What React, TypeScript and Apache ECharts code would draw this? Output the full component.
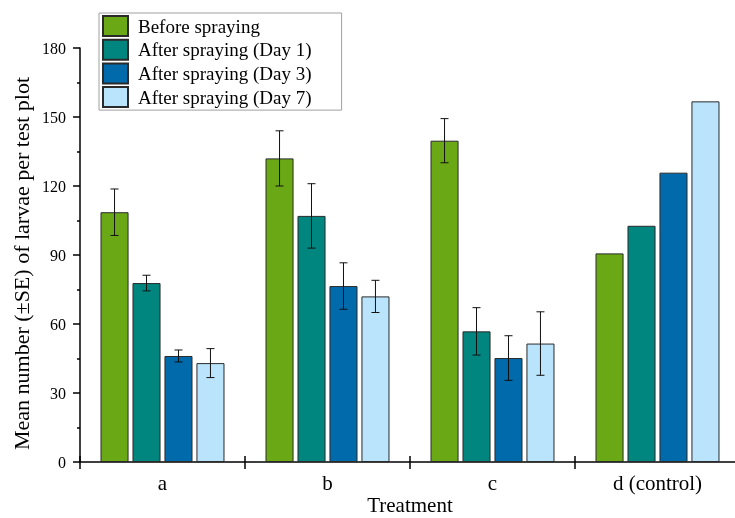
import React, { useEffect, useRef } from "react";
import * as echarts from "echarts";

const categories = ["a", "b", "c", "d (control)"];
const seriesNames = [
  "Before spraying",
  "After spraying (Day 1)",
  "After spraying (Day 3)",
  "After spraying (Day 7)",
];
const beforeSpraying = [108.6, 132.0, 139.7, 90.7];
const beforeSprayingSE = [10.1, 12.0, 9.6, 0];
const day1 = [77.8, 107.0, 56.8, 102.7];
const day1SE = [3.4, 14.0, 10.3, 0];
const day3 = [46.1, 76.5, 45.2, 125.8];
const day3SE = [2.6, 10.1, 9.7, 0];
const day7 = [43.0, 72.0, 51.5, 156.8];
const day7SE = [6.3, 7.0, 13.8, 0];
const yTicks = [0, 30, 60, 90, 120, 150, 180];

const colors = ["#6ba815", "#00867f", "#006aab", "#bae4fc"];
const values = [beforeSpraying, day1, day3, day7];
const errors = [beforeSprayingSE, day1SE, day3SE, day7SE];

const BAR_W = 0.17;
const BAR_GAP = 0.14;
const FONT = "Liberation Serif";

export default function App() {
  const ref = useRef<HTMLDivElement>(null);
  useEffect(() => {
    if (!ref.current) return;
    const chart = echarts.init(ref.current, undefined, { renderer: "svg" });

    const barSeries = seriesNames.map((name, i) => ({
      name,
      type: "bar",
      data: values[i],
      barWidth: `${BAR_W * 100}%`,
      barGap: `${BAR_GAP * 100}%`,
      itemStyle: { color: colors[i], borderColor: "#2a2a2a", borderWidth: 1 },
      emphasis: { disabled: true },
    }));

    const errSeries = seriesNames.map((name, i) => ({
      type: "custom",
      name: name + " SE",
      z: 10,
      data: values[i].map((v, k) => [k, v, errors[i][k]]),
      renderItem: (params: any, api: any) => {
        const se = api.value(2);
        if (!se) return null;
        const cat = api.value(0);
        const v = api.value(1);
        const W = api.size([1, 0])[0];
        const bw = W * BAR_W;
        const off = (i - 1.5) * bw * (1 + BAR_GAP);
        const top = api.coord([cat, v + se]);
        const bot = api.coord([cat, v - se]);
        const x = top[0] + off;
        const cap = 4;
        const style = { stroke: "#111", lineWidth: 1, fill: null };
        return {
          type: "group",
          children: [
            { type: "line", shape: { x1: x, y1: top[1], x2: x, y2: bot[1] }, style },
            { type: "line", shape: { x1: x - cap, y1: top[1], x2: x + cap, y2: top[1] }, style },
            { type: "line", shape: { x1: x - cap, y1: bot[1], x2: x + cap, y2: bot[1] }, style },
          ],
        };
      },
    }));

    chart.setOption({
      animation: false,
      textStyle: { fontFamily: FONT, color: "#000" },
      legend: {
        data: seriesNames,
        orient: "vertical",
        left: 99,
        top: 13,
        icon: "rect",
        itemWidth: 25,
        itemHeight: 20,
        itemGap: 1.7,
        padding: [2, 30, 2, 3],
        borderColor: "#a0a0a0",
        borderWidth: 1,
        borderRadius: 0,
        textStyle: { fontFamily: FONT, fontSize: 19, lineHeight: 21, color: "#000", padding: [0, 0, 0, 5] },
        selectedMode: false,
      },
      grid: {
        left: 80,
        right: -5,
        top: 48,
        bottom: 56,
        containLabel: false,
        outerBoundsMode: "none",
      },
      xAxis: [
        {
          type: "category",
          data: categories,
          name: "Treatment",
          nameLocation: "middle",
          nameGap: 32,
          nameMoveOverlap: false,
          nameTextStyle: { fontFamily: FONT, fontSize: 21, lineHeight: 21, color: "#000" },
          axisLine: { lineStyle: { color: "#000", width: 1.5 } },
          axisTick: { show: true, length: 7, lineStyle: { color: "#000", width: 1.5 } },
          axisLabel: { fontFamily: FONT, fontSize: 21, color: "#000", margin: 10 },
        },
        {
          type: "category",
          data: categories,
          position: "bottom",
          axisLine: { show: false },
          axisTick: { show: true, inside: true, length: 6, lineStyle: { color: "#000", width: 1.5 } },
          axisLabel: { show: false },
        },
      ],
      yAxis: {
        type: "value",
        min: yTicks[0],
        max: yTicks[yTicks.length - 1],
        interval: 30,
        name: "Mean number (±SE) of larvae per test plot",
        nameLocation: "middle",
        nameGap: 48,
        nameMoveOverlap: false,
        nameTextStyle: { fontFamily: FONT, fontSize: 22, color: "#000", padding: [0, 17, 0, 0] },
        axisLine: { show: true, lineStyle: { color: "#000", width: 1.5 } },
        axisTick: { show: true, length: 7, lineStyle: { color: "#000", width: 1.5 } },
        minorTick: { show: true, splitNumber: 2, length: 3, lineStyle: { color: "#000", width: 1.5 } },
        splitLine: { show: false },
        axisLabel: { fontFamily: FONT, fontSize: 16, color: "#000", margin: 14 },
      },
      series: [...barSeries, ...errSeries],
    });
    return () => chart.dispose();
  }, []);
  return (
    <div style={{ position: "fixed", left: 0, top: 0, width: 735, height: 518, overflow: "hidden" }}>
      <div ref={ref} style={{ width: 735, height: 518 }} />
    </div>
  );
}
